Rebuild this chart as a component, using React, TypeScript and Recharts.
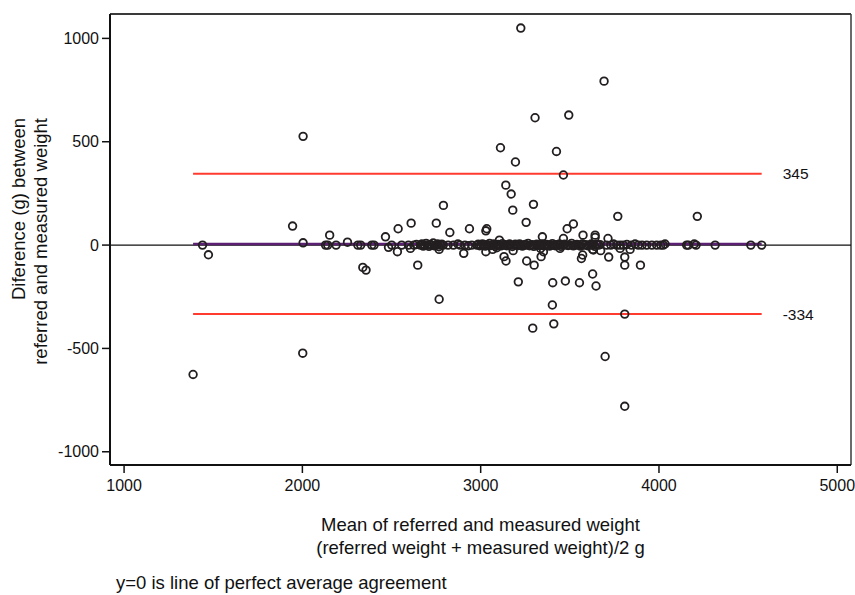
import React from 'react';
import { ScatterChart, Scatter, XAxis, YAxis, ReferenceLine } from 'recharts';

// ---- data ----
const xTicks = [1000, 2000, 3000, 4000, 5000];
const yTicks = [-1000, -500, 0, 500, 1000];
const xDomain: [number, number] = [921, 5077];
const yDomain: [number, number] = [-1064, 1118];
const upperLimit = 345;
const lowerLimit = -334;
const meanDifference = 5.5;

// points clearly away from zero: [mean weight, difference]
const scatteredPoints: [number, number][] = [
  [1387, -626], [1473, -47], [1945, 92], [2004, 526], [2004, 11], [2002, -523], [2153, 48], [2253, 14],
  [2339, -108], [2357, -121], [2466, 40], [2483, -11], [2533, -32], [2537, 79], [2606, -16], [2610, 106], [2647, -97],
  [2751, 106], [2767, -21], [2767, -262], [2791, 192], [2827, 61], [2905, -40], [2937, 79],
  [3029, 69], [3034, 79], [3029, -32], [3067, -21], [3090, -13], [3105, 24], [3111, 471], [3131, -56], [3142, -77],
  [3141, 290], [3171, 247], [3180, 169], [3182, -27], [3195, 402], [3211, -178], [3225, 1050], [3255, 110],
  [3258, -77], [3292, -402], [3296, 197], [3300, -97], [3305, 616], [3336, -16], [3339, -56], [3346, 40],
  [3352, -32], [3402, -290], [3404, -182], [3410, -381], [3425, 453], [3445, -16], [3464, 339], [3464, 32],
  [3475, -174], [3485, 79], [3494, 629], [3520, 102], [3554, -182], [3565, -65], [3572, -48], [3574, 48],
  [3628, -140], [3628, -21], [3632, -24], [3642, 48], [3642, 37], [3647, -198], [3673, -27], [3692, 793],
  [3698, -539], [3714, 32], [3718, -58], [3769, 139], [3782, -16], [3808, -58], [3808, -97], [3808, -334],
  [3808, -780], [3838, -21], [3896, -97], [4215, 139],
];

// points on / very near the zero line: [mean weight, difference]
const nearZeroPoints: [number, number][] = [
  [1440, 0], [2130, 0], [2142, 0], [2189, 0], [2311, 0], [2327, 0], [2389, 0], [2402, 0], [2501, 0],
  [2557, 0], [2595, 0], [2625, 0], [2640, 3],
  [2662, 0], [2670, 5], [2678, -5], [2686, 0], [2694, 8], [2702, 0], [2710, -6], [2718, 3], [2726, 0],
  [2734, 10], [2742, -4], [2750, 0], [2758, 6], [2766, -8], [2774, 0], [2782, 4], [2790, 0],
  [2817, 0], [2847, 0], [2872, 5], [2884, 0], [2912, 0], [2931, -3], [2950, 0],
  [2978, 0], [2986, 4], [2994, -3], [3002, 0], [3010, 6], [3018, 0], [3026, -5], [3034, 2], [3042, 0],
  [3050, 8], [3058, -2], [3066, 0], [3074, 5], [3082, -6], [3090, 0], [3098, 3], [3106, 0], [3114, -4],
  [3122, 7], [3130, 0], [3138, 2], [3146, -3], [3154, 0], [3162, 5], [3170, 0], [3178, -7], [3186, 0],
  [3194, 4], [3202, 0], [3210, -2], [3218, 6], [3226, 0], [3234, -5], [3242, 0], [3250, 3], [3258, 0],
  [3266, 8], [3274, -3], [3282, 0], [3290, 2], [3298, -6], [3306, 0], [3314, 4], [3322, 0], [3330, -2],
  [3338, 0], [3346, 6], [3354, -4], [3362, 0], [3370, 3], [3378, 0], [3386, -5], [3394, 0], [3402, 7],
  [3410, 0], [3418, -3], [3426, 2], [3434, 0], [3442, 5], [3450, -6], [3460, 0], [3470, 4], [3480, 0],
  [3490, -2], [3500, 0], [3510, 8], [3520, -4], [3530, 0], [3540, 3], [3550, 0], [3560, -5], [3570, 6],
  [3580, 0], [3590, 2], [3600, -3], [3610, 0], [3620, 5], [3630, 0], [3640, -6], [3650, 4], [3660, 0],
  [3670, 2],
  [3707, 0], [3730, 0], [3745, 5], [3763, 0], [3782, 0], [3800, 0], [3820, 3], [3845, 0], [3866, 5],
  [3884, 0], [3905, 0], [3931, 0], [3960, 0], [3987, 0], [4010, 0], [4024, 0], [4034, 5],
  [4155, 0], [4165, 0], [4198, 5], [4208, 0], [4315, 0], [4515, 0], [4576, 0],
];

const allPoints = [...scatteredPoints, ...nearZeroPoints].map(([m, d]) => ({ mean: m, diff: d }));
const minMean = Math.min(...allPoints.map((p) => p.mean));
const maxMean = Math.max(...allPoints.map((p) => p.mean));

const font = 'Liberation Sans, Arial, Helvetica, sans-serif';

const Ring = (props: any) => {
  const { cx, cy } = props;
  if (cx == null || cy == null) return <g />;
  return <circle cx={cx} cy={cy} r={3.8} fill="none" stroke="#231f20" strokeWidth={1.8} />;
};

const XTitle = (props: any) => {
  const vb = props.viewBox || { x: 110, y: 465, width: 741, height: 30 };
  const cx = vb.x + vb.width / 2;
  return (
    <g fontFamily={font} fill="#111" fontSize={18.5}>
      <text x={cx} y={vb.y + 66} textAnchor="middle">Mean of referred and measured weight</text>
      <text x={cx} y={vb.y + 88.5} textAnchor="middle">(referred weight + measured weight)/2 g</text>
      <text x={vb.x + 6} y={vb.y + 124} textAnchor="start">y=0 is line of perfect average agreement</text>
    </g>
  );
};

const YTitle = (props: any) => {
  const vb = props.viewBox || { x: 50, y: 14, width: 60, height: 451 };
  const endY = vb.y + 104;
  const x1 = vb.x - 25;
  const x2 = vb.x - 3.5;
  return (
    <g fontFamily={font} fill="#111" fontSize={18.5}>
      <text x={x1} y={endY} textAnchor="end" transform={`rotate(-90, ${x1}, ${endY})`}>Diference (g) between</text>
      <text x={x2} y={endY} textAnchor="end" transform={`rotate(-90, ${x2}, ${endY})`}>referred and measured weight</text>
    </g>
  );
};

export default function App() {
  return (
    <div style={{ position: 'absolute', left: 0, top: 0, width: 855, height: 595, background: '#fff' }}>
      <ScatterChart width={855} height={595} margin={{ top: 14, right: 4, bottom: 100, left: 50 }}>
        <XAxis
          dataKey="mean"
          type="number"
          domain={xDomain}
          ticks={xTicks}
          allowDataOverflow
          height={30}
          tickSize={8}
          tickMargin={7}
          tick={{ fontSize: 16, fill: '#111', fontFamily: font }}
          tickLine={{ stroke: '#111', strokeWidth: 1.5 }}
          axisLine={{ stroke: '#111', strokeWidth: 2 }}
          label={<XTitle />}
        />
        <YAxis
          dataKey="diff"
          type="number"
          domain={yDomain}
          ticks={yTicks}
          allowDataOverflow
          width={60}
          tickSize={8}
          tickMargin={3}
          tick={{ fontSize: 16, fill: '#111', fontFamily: font }}
          tickLine={{ stroke: '#111', strokeWidth: 1.5 }}
          axisLine={{ stroke: '#111', strokeWidth: 2 }}
          label={<YTitle />}
        />
        <ReferenceLine y={yDomain[1]} stroke="#3a3a3a" strokeWidth={2} />
        <ReferenceLine x={xDomain[1]} stroke="#3a3a3a" strokeWidth={1.5} />
        <ReferenceLine y={0} stroke="#111" strokeWidth={1.3} />
        <ReferenceLine
          segment={[{ x: minMean, y: upperLimit }, { x: maxMean, y: upperLimit }]}
          stroke="#ff3b2f"
          strokeWidth={2}
          label={{ value: String(upperLimit), position: 'right', offset: 21, fontSize: 15.5, fill: '#111', fontFamily: font }}
        />
        <ReferenceLine
          segment={[{ x: minMean, y: lowerLimit }, { x: maxMean, y: lowerLimit }]}
          stroke="#ff3b2f"
          strokeWidth={2}
          label={{ value: String(lowerLimit), position: 'right', offset: 21, fontSize: 15.5, fill: '#111', fontFamily: font }}
        />
        <ReferenceLine
          segment={[{ x: minMean, y: meanDifference }, { x: maxMean, y: meanDifference }]}
          stroke="#5b1f73"
          strokeWidth={2.5}
        />
        <Scatter data={allPoints} shape={<Ring />} isAnimationActive={false} />
      </ScatterChart>
    </div>
  );
}
